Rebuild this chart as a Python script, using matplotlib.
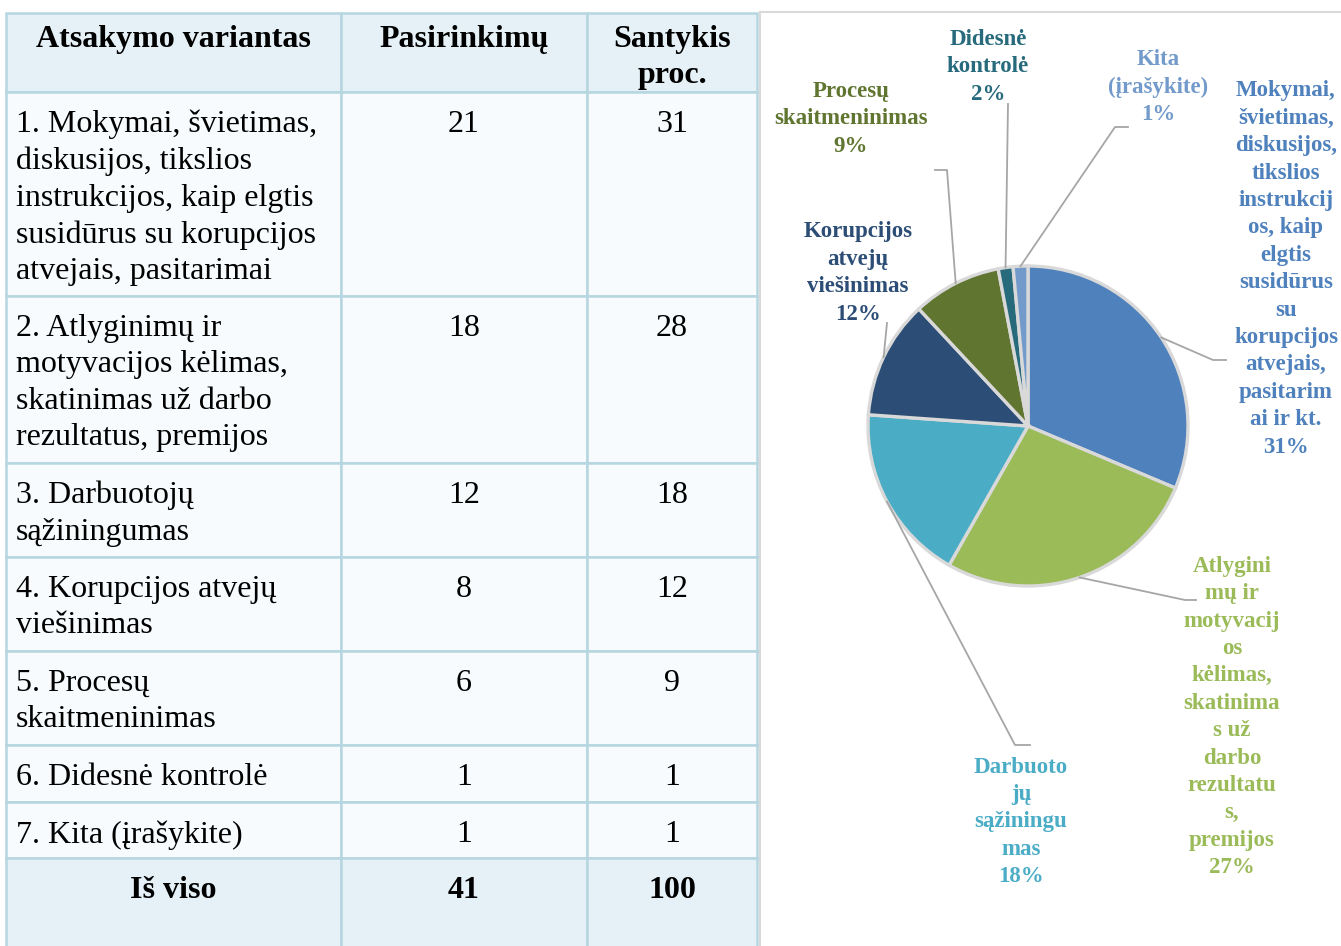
import numpy as np
import matplotlib.pyplot as plt
from matplotlib.patches import Rectangle

# ---- data ----
headers = ['Atsakymo variantas', 'Pasirinkimų', 'Santykis\nproc.']
row_labels = [
    '1. Mokymai, švietimas,\ndiskusijos, tikslios\ninstrukcijos, kaip elgtis\nsusidūrus su korupcijos\natvejais, pasitarimai',
    '2. Atlyginimų ir\nmotyvacijos kėlimas,\nskatinimas už darbo\nrezultatus, premijos',
    '3. Darbuotojų\nsąžiningumas',
    '4. Korupcijos atvejų\nviešinimas',
    '5. Procesų\nskaitmeninimas',
    '6. Didesnė kontrolė',
    '7. Kita (įrašykite)',
]
counts = [21, 18, 12, 8, 6, 1, 1]
shares = [31, 28, 18, 12, 9, 1, 1]
total_label = 'Iš viso'
total_count = 41
total_share = 100

pie_labels = [
    'Mokymai,\nšvietimas,\ndiskusijos,\ntikslios\ninstrukcij\nos, kaip\nelgtis\nsusidūrus\nsu\nkorupcijos\natvejais,\npasitarim\nai ir kt.\n31%',
    'Atlygini\nmų ir\nmotyvacij\nos\nkėlimas,\nskatinima\ns už\ndarbo\nrezultatu\ns,\npremijos\n27%',
    'Darbuoto\njų\nsąžiningu\nmas\n18%',
    'Korupcijos\natvejų\nviešinimas\n12%',
    'Procesų\nskaitmeninimas\n9%',
    'Didesnė\nkontrolė\n2%',
    'Kita\n(įrašykite)\n1%',
]
pie_colors = ['#4f81bd', '#9bbb59', '#4bacc6', '#2c4d75', '#5f7530', '#276a7c', '#729aca']

# ---- layout (pixel coords, y measured from top) ----
W, H = 1341, 946
col_x = [6, 341, 587, 757]
row_y = [13, 92, 296, 463, 557, 651, 745, 802, 858, 960]
pie_c = (1028, 426)
pie_r = 160
label_pos = [(1286, 269), (1232, 717), (1021, 822), (858, 273),
             (851, 119), (988, 67), (1158, 87)]
leader_pts = [
    [(1213, 360), (1226, 360)],
    [(1185, 600), (1196, 600)],
    [(1015, 745), (1030, 745)],
    [(887, 323)],
    [(947, 170), (935, 170)],
    [(1008, 104)],
    [(1115, 127), (1128, 127)],
]

plt.rcParams['font.family'] = ['Liberation Serif', 'DejaVu Serif']

fig = plt.figure(figsize=(W / 100, H / 100), dpi=100)
ax = fig.add_axes([0, 0, 1, 1])


def Y(y):
    return H - y


# ---- table ----
head_fill = '#e5f1f6'
body_fill = '#f7fbfd'
border = '#b6d6e0'
n_rows = len(row_y) - 1
for i in range(n_rows):
    fill = head_fill if i in (0, n_rows - 1) else body_fill
    for j in range(3):
        ax.add_patch(Rectangle((col_x[j], Y(row_y[i + 1])), col_x[j + 1] - col_x[j],
                               row_y[i + 1] - row_y[i], facecolor=fill,
                               edgecolor=border, lw=1.8, zorder=1))

fs_tab = 23
ls_tab = 1.33
for j, h in enumerate(headers):
    cx = (col_x[j] + col_x[j + 1]) / 2
    ax.text(cx, Y(row_y[0] + 12), h, ha='center', va='top', fontsize=fs_tab,
            fontweight='bold', linespacing=ls_tab, zorder=3)

for i, (lab, c, s) in enumerate(zip(row_labels, counts, shares)):
    top = row_y[i + 1] + 18
    ax.text(col_x[0] + 10, Y(top), lab, ha='left', va='top', fontsize=fs_tab,
            linespacing=ls_tab, zorder=3)
    ax.text((col_x[1] + col_x[2]) / 2, Y(top), str(c), ha='center', va='top',
            fontsize=fs_tab, zorder=3)
    ax.text((col_x[2] + col_x[3]) / 2, Y(top), str(s), ha='center', va='top',
            fontsize=fs_tab, zorder=3)

top = row_y[-2] + 18
for j, t in enumerate([total_label, str(total_count), str(total_share)]):
    ax.text((col_x[j] + col_x[j + 1]) / 2, Y(top), t, ha='center', va='top',
            fontsize=fs_tab, fontweight='bold', zorder=3)

# ---- chart area frame ----
ax.plot([760, 760], [Y(12), Y(H)], color='#d9d9d9', lw=1.5, zorder=1)
ax.plot([760, W], [Y(12), Y(12)], color='#d9d9d9', lw=1.5, zorder=1)

# ---- pie ----
wedges, _ = ax.pie(counts, colors=pie_colors, startangle=90, counterclock=False,
                   center=(pie_c[0], Y(pie_c[1])), radius=pie_r,
                   wedgeprops=dict(edgecolor='#d9d9d9', linewidth=2.4))
ax.set_xlim(0, W)
ax.set_ylim(0, H)
ax.set_aspect('equal')
ax.axis('off')

for w, lab, col, pos, pts in zip(wedges, pie_labels, pie_colors, label_pos, leader_pts):
    mid = np.deg2rad((w.theta1 + w.theta2) / 2)
    x0 = pie_c[0] + pie_r * np.cos(mid)
    y0 = Y(pie_c[1]) + pie_r * np.sin(mid)
    xs = [x0] + [p[0] for p in pts]
    ys = [y0] + [Y(p[1]) for p in pts]
    ax.plot(xs, ys, color='#a6a6a6', lw=1.3, zorder=2)
    ax.text(pos[0], Y(pos[1]), lab, ha='center', va='center', multialignment='center',
            fontsize=16.5, fontweight='bold', color=col, linespacing=1.4, zorder=3)

fig.savefig('out.png', dpi=100)
